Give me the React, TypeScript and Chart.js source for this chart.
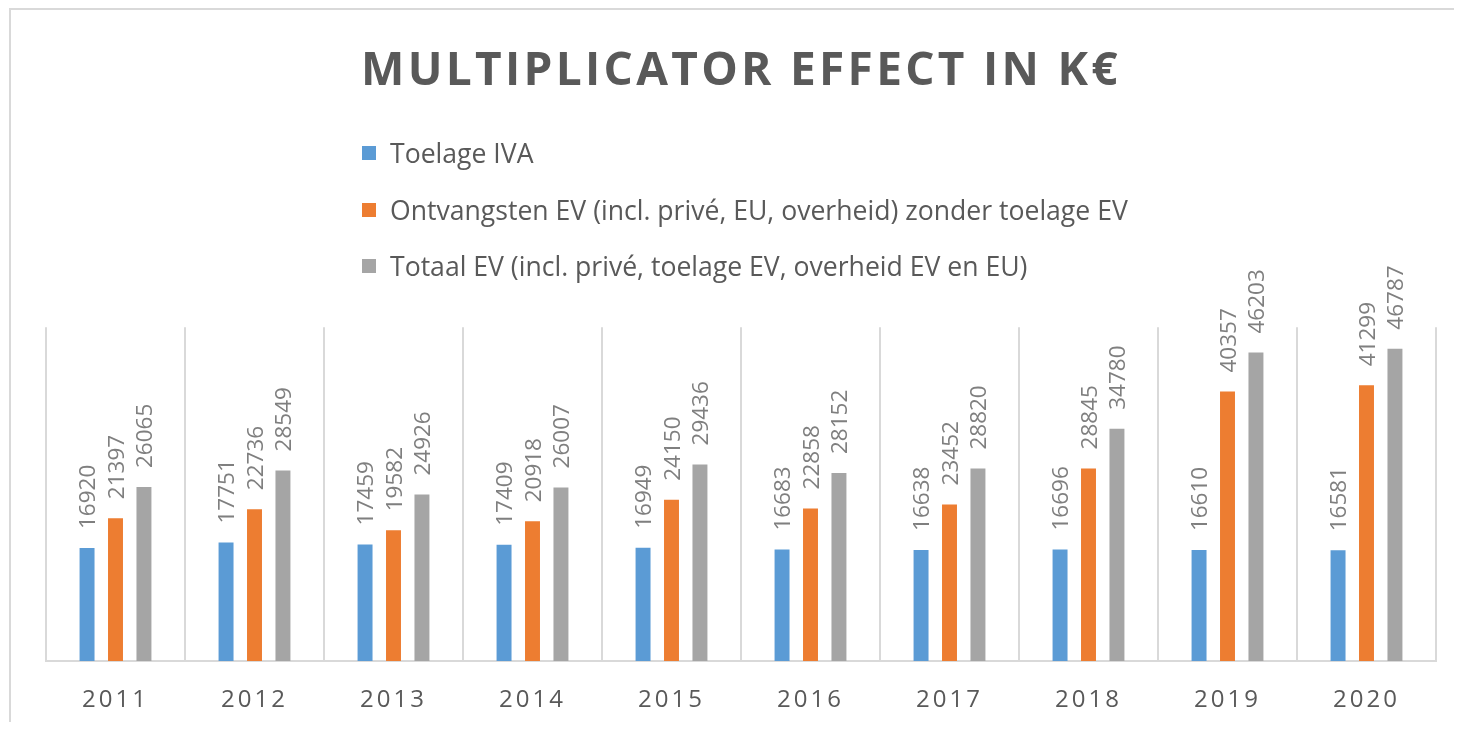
import React, { useEffect, useRef } from "react";
import { Chart, registerables } from "chart.js";

Chart.register(...registerables);

const TITLE = "MULTIPLICATOR EFFECT IN K€";
const YEARS = ["2011", "2012", "2013", "2014", "2015", "2016", "2017", "2018", "2019", "2020"];
const TOELAGE_IVA = [16920, 17751, 17459, 17409, 16949, 16683, 16638, 16696, 16610, 16581];
const ONTVANGSTEN_EV = [21397, 22736, 19582, 20918, 24150, 22858, 23452, 28845, 40357, 41299];
const TOTAAL_EV = [26065, 28549, 24926, 26007, 29436, 28152, 28820, 34780, 46203, 46787];
const SERIES_LABELS = [
  "Toelage IVA",
  "Ontvangsten EV (incl. privé, EU, overheid) zonder toelage EV",
  "Totaal EV (incl. privé, toelage EV, overheid EV en EU)",
];
const SERIES_COLORS = ["#5B9BD5", "#ED7D31", "#A5A5A5"];
const Y_MIN = 0;
const Y_MAX = 50000;

const FONT = "'Open Sans', 'DejaVu Sans', sans-serif";
const TITLE_SPACING = "3.3px";
const TICK_SPACING = "3px";

const spacingPlugin = {
  id: "letterSpacingPatch",
  beforeDraw(chart: any) {
    const ctx = chart.ctx;
    const tb = chart.titleBlock;
    if (tb && !tb.__patched) {
      const orig = tb.draw.bind(tb);
      tb.draw = (...args: any[]) => {
        ctx.save();
        ctx.letterSpacing = TITLE_SPACING;
        orig(...args);
        ctx.restore();
      };
      tb.__patched = true;
    }
    const xs = chart.scales && chart.scales.x;
    if (xs && !xs.__patched) {
      const orig = xs.drawLabels.bind(xs);
      xs.drawLabels = (...args: any[]) => {
        ctx.save();
        ctx.letterSpacing = TICK_SPACING;
        orig(...args);
        ctx.restore();
      };
      xs.__patched = true;
    }
  },
};

const dataLabelPlugin = {
  id: "rotatedDataLabels",
  afterDatasetsDraw(chart: any) {
    const ctx = chart.ctx;
    ctx.save();
    ctx.font = `22.5px ${FONT}`;
    ctx.fillStyle = "#7f7f7f";
    ctx.textAlign = "left";
    ctx.textBaseline = "middle";
    chart.data.datasets.forEach((ds: any, di: number) => {
      const meta = chart.getDatasetMeta(di);
      meta.data.forEach((el: any, i: number) => {
        const v = ds.data[i];
        ctx.save();
        ctx.translate(el.x, el.y - 19);
        ctx.rotate(-Math.PI / 2);
        ctx.fillText(String(v), 0, 2);
        ctx.restore();
      });
    });
    ctx.restore();
  },
};

export default function App() {
  const canvasRef = useRef<HTMLCanvasElement | null>(null);

  useEffect(() => {
    const prevOverflow = document.body.style.overflow;
    document.body.style.overflow = "hidden";
    const canvas = canvasRef.current;
    if (!canvas) return;
    const seriesData = [TOELAGE_IVA, ONTVANGSTEN_EV, TOTAAL_EV];
    const chart = new Chart(canvas, {
      type: "bar",
      data: {
        labels: YEARS,
        datasets: seriesData.map((d, i) => ({
          label: SERIES_LABELS[i],
          data: d,
          backgroundColor: SERIES_COLORS[i],
          borderWidth: 0,
          categoryPercentage: 0.614,
          barPercentage: 0.526,
        })),
      },
      options: {
        responsive: false,
        animation: false,
        layout: { padding: { left: 38, right: 18, top: 0, bottom: 0 } },
        plugins: {
          legend: { display: false },
          tooltip: { enabled: false },
          title: {
            display: true,
            text: TITLE,
            color: "#595959",
            font: { family: FONT, size: 46, weight: "bold", lineHeight: 1.2 },
            padding: { top: 36, bottom: 228 },
          },
        },
        scales: {
          x: {
            offset: true,
            grid: {
              display: true,
              offset: true,
              color: "#d9d9d9",
              lineWidth: 2,
              drawTicks: false,
            },
            border: { display: true, color: "#d9d9d9", width: 2 },
            ticks: {
              color: "#595959",
              font: { family: FONT, size: 24 },
              padding: 25,
            },
            afterFit: (s: any) => {
              s.height = 61;
            },
          },
          y: {
            display: false,
            min: Y_MIN,
            max: Y_MAX,
          },
        },
      },
      plugins: [spacingPlugin, dataLabelPlugin],
    });
    return () => {
      chart.destroy();
      document.body.style.overflow = prevOverflow;
    };
  }, []);

  const rowCenters = [145, 202, 258];

  return (
    <div style={{ position: "relative", width: 1446, height: 714, fontFamily: FONT }}>
      <canvas
        ref={canvasRef}
        width={1446}
        height={714}
        style={{ position: "absolute", left: 0, top: 0, width: 1446, height: 714 }}
      />
      <div
        style={{
          position: "absolute",
          left: 1,
          top: 0,
          width: 1453,
          height: 722,
          boxSizing: "border-box",
          borderLeft: "2px solid #d9d9d9",
          borderTop: "2px solid #d9d9d9",
          pointerEvents: "none",
        }}
      />
      {SERIES_LABELS.map((label, i) => (
        <div
          key={label}
          style={{
            position: "absolute",
            left: 354,
            top: rowCenters[i] - 16,
            height: 32,
            display: "flex",
            alignItems: "center",
            whiteSpace: "nowrap",
          }}
        >
          <span
            style={{
              display: "inline-block",
              width: 14,
              height: 14,
              background: SERIES_COLORS[i],
              marginRight: 14,
            }}
          />
          <span style={{ fontSize: 26.6, lineHeight: "32px", color: "#595959" }}>{label}</span>
        </div>
      ))}
    </div>
  );
}
